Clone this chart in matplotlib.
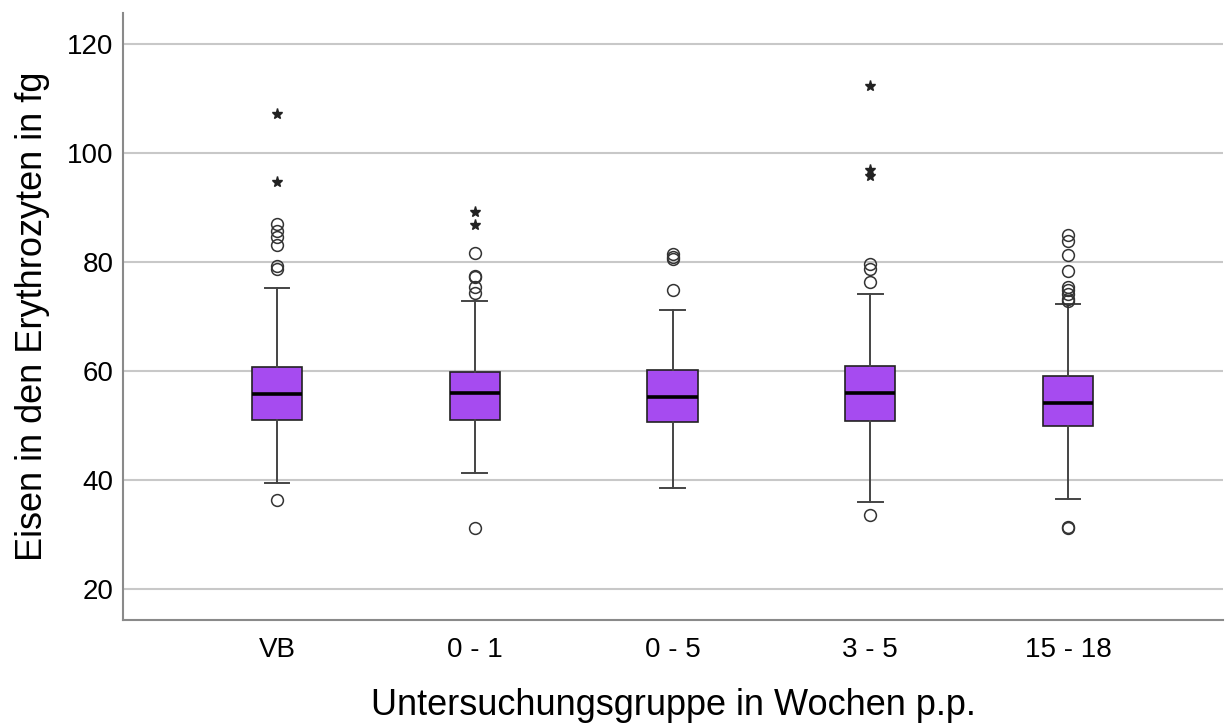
import numpy as np
import matplotlib
matplotlib.use("Agg")
import matplotlib.pyplot as plt

plt.rcParams["font.family"] = ["Liberation Sans", "DejaVu Sans"]

# values (fg)
groups = ["VB", "0 - 1", "0 - 5", "3 - 5", "15 - 18"]
q1 = [51.0, 51.1, 50.6, 50.8, 49.9]
med = [55.8, 55.9, 55.3, 55.9, 54.1]
q3 = [60.8, 59.9, 60.1, 60.9, 59.1]
whislo = [39.5, 41.3, 38.5, 35.9, 36.5]
whishi = [75.2, 72.9, 71.2, 74.1, 72.3]
outliers = [
    [36.3, 78.7, 79.3, 83.1, 84.5, 85.6, 86.9],
    [31.2, 74.3, 75.4, 77.3, 77.5, 81.6],
    [74.9, 80.6, 81.0, 81.4],
    [33.6, 76.4, 78.7, 79.6],
    [31.1, 31.4, 72.9, 73.3, 74.1, 74.9, 75.5, 78.3, 81.3, 83.9, 85.0],
]
extremes = [
    [94.6, 107.2],
    [86.8, 89.1],
    [],
    [95.7, 96.9, 112.3],
    [],
]

BOX = "#A64BF0"

stats = []
for i, g in enumerate(groups):
    stats.append({"label": g, "q1": q1[i], "med": med[i], "q3": q3[i],
                  "whislo": whislo[i], "whishi": whishi[i],
                  "fliers": outliers[i]})

fig = plt.figure(figsize=(12.25, 7.24), dpi=100)
ax = fig.add_axes([123 / 1225, 1 - 620 / 724, 1100 / 1225, 607 / 724])

pos = np.arange(len(groups))
ax.bxp(stats, positions=pos, widths=0.253, patch_artist=True,
       boxprops=dict(facecolor=BOX, edgecolor="#222222", linewidth=1.2),
       medianprops=dict(color="black", linewidth=2.6),
       whiskerprops=dict(color="#444444", linewidth=1.4),
       capprops=dict(color="#444444", linewidth=1.4),
       capwidths=0.125,
       flierprops=dict(marker="o", markerfacecolor="none",
                       markeredgecolor="#333333", markersize=8.5,
                       markeredgewidth=1.1),
       zorder=3)

for i, ex in enumerate(extremes):
    if ex:
        ax.plot([pos[i]] * len(ex), ex, linestyle="none", marker="*",
                color="#222222", markersize=8, zorder=4)

ax.set_xlim(-0.779, 4.784)
ax.set_ylim(14.31, 125.69)
ax.set_yticks([20, 40, 60, 80, 100, 120])
ax.set_xticks(pos)
ax.set_xticklabels(groups)
ax.yaxis.grid(True, color="#c8c8c8", linewidth=1.5, zorder=0)
ax.set_axisbelow(True)

for s in ["top", "right"]:
    ax.spines[s].set_visible(False)
for s in ["left", "bottom"]:
    ax.spines[s].set_color("#8a8a8a")
    ax.spines[s].set_linewidth(1.5)

ax.tick_params(axis="both", length=0, labelsize=20, colors="black")
ax.tick_params(axis="x", pad=12)
ax.tick_params(axis="y", pad=7)

ax.set_xlabel("Untersuchungsgruppe in Wochen p.p.", fontsize=26, labelpad=18)
ax.set_ylabel("Eisen in den Erythrozyten in fg", fontsize=26, labelpad=12)

fig.savefig("out.png", dpi=100)
